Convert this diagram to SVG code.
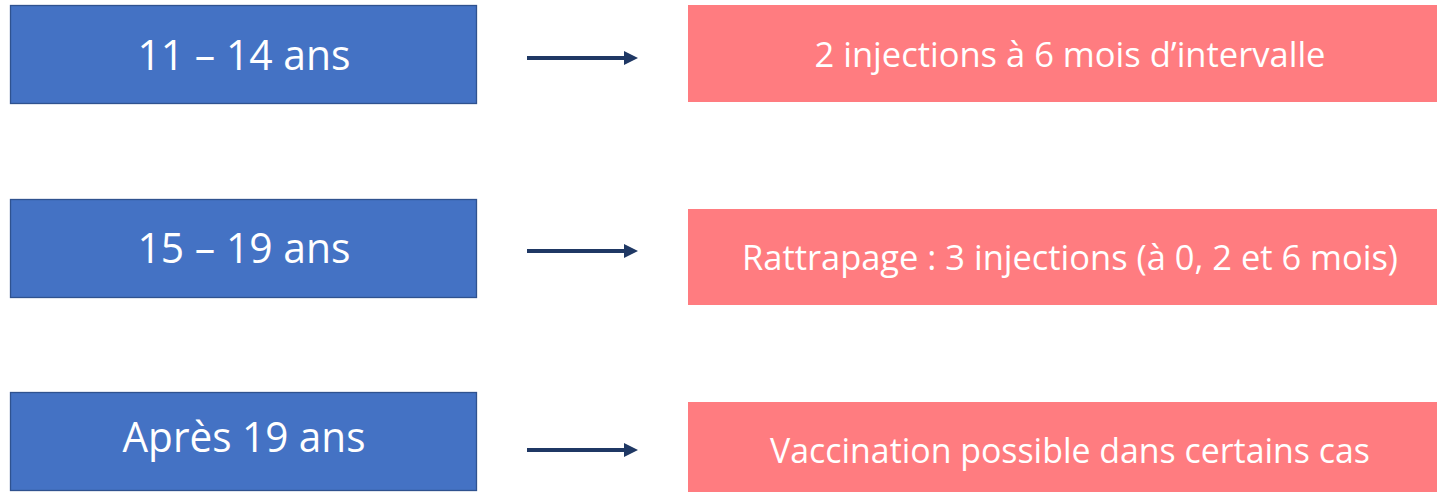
<svg xmlns="http://www.w3.org/2000/svg" width="1437" height="492" viewBox="0 0 1437 492">
<style>
.age rect{fill:#4472C4;stroke:#2F528F;stroke-width:1.3}
.res rect{fill:#FF7C80}
.age text{font-family:"Open Sans","Noto Sans",sans-serif;font-size:42px;fill:#fff;text-anchor:middle}
.res text{font-family:"Open Sans","Noto Sans",sans-serif;font-size:35px;fill:#fff;text-anchor:middle}
.conn line{stroke:#1F3864;stroke-width:4}
</style>
<defs>
<marker id="ah" viewBox="0 0 14 14" refX="6" refY="7" markerWidth="14" markerHeight="14" markerUnits="userSpaceOnUse" orient="auto">
<path d="M0,0 L14,7 L0,14 z" fill="#1F3864"/>
</marker>
</defs>
<rect width="1437" height="492" fill="#fff"/>
<g id="age1" class="age"><rect x="10.5" y="5.5" width="466" height="98"/><text x="244" y="70" textLength="213" lengthAdjust="spacingAndGlyphs">11 – 14 ans</text></g>
<g id="age2" class="age"><rect x="10.5" y="199.5" width="466" height="98"/><text x="244" y="263" textLength="213" lengthAdjust="spacingAndGlyphs">15 – 19 ans</text></g>
<g id="age3" class="age"><rect x="10.5" y="392.5" width="466" height="98"/><text x="244" y="452" textLength="243" lengthAdjust="spacingAndGlyphs">Après 19 ans</text></g>
<g id="res1" class="res"><rect x="688" y="5" width="749" height="97"/><text x="1070" y="67" textLength="511" lengthAdjust="spacingAndGlyphs">2 injections à 6 mois d’intervalle</text></g>
<g id="res2" class="res"><rect x="688" y="209" width="749" height="96"/><text x="1070" y="270" textLength="656" lengthAdjust="spacingAndGlyphs">Rattrapage : 3 injections (à 0, 2 et 6 mois)</text></g>
<g id="res3" class="res"><rect x="688" y="402" width="749" height="90"/><text x="1070" y="463" textLength="600" lengthAdjust="spacingAndGlyphs">Vaccination possible dans certains cas</text></g>
<g id="connectors" class="conn">
<line x1="527" y1="58" x2="630" y2="58" marker-end="url(#ah)"/>
<line x1="527" y1="251" x2="630" y2="251" marker-end="url(#ah)"/>
<line x1="527" y1="450" x2="630" y2="450" marker-end="url(#ah)"/>
</g>
</svg>
